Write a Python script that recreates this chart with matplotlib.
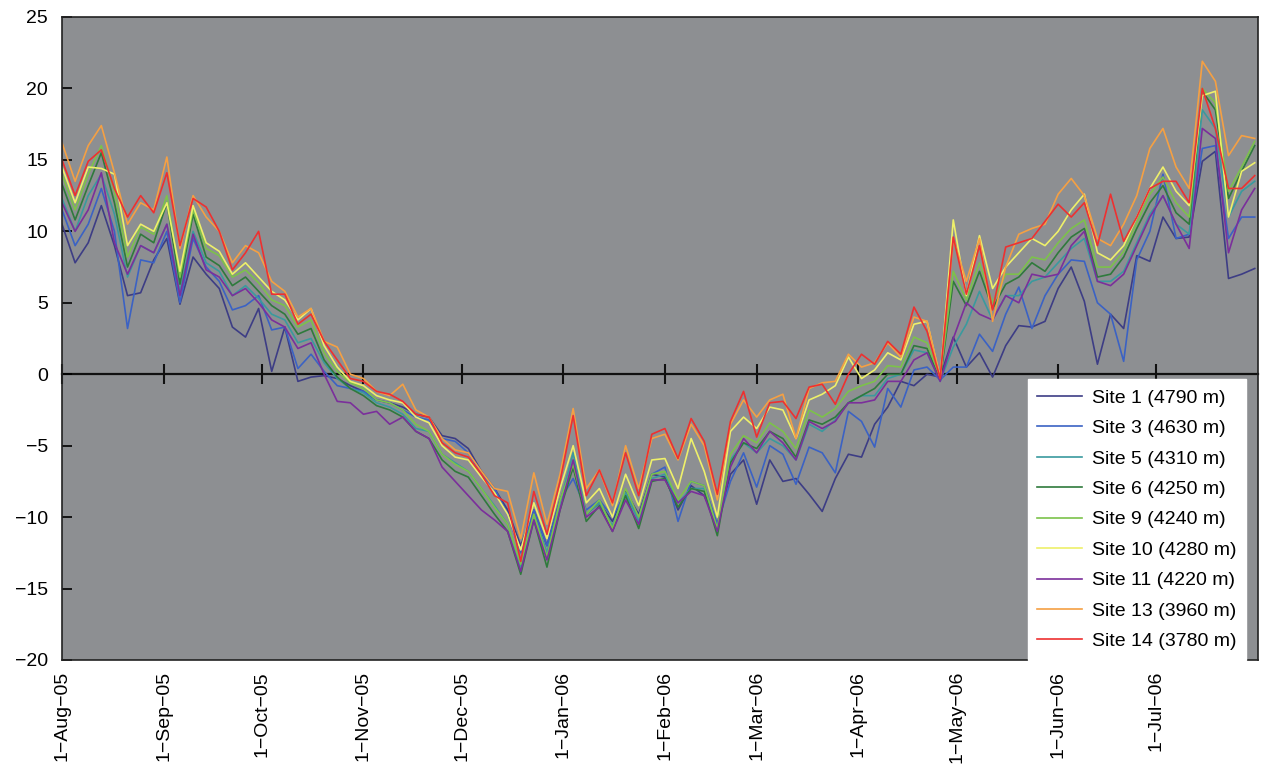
import numpy as np
import matplotlib
matplotlib.use("Agg")
import matplotlib.pyplot as plt
import matplotlib.dates as mdates
from datetime import date, timedelta

plt.rcParams['font.family'] = ['Liberation Sans', 'DejaVu Sans']

start = date(2005, 8, 1)
day_offsets = list(range(0, 365, 4))
dates = [start + timedelta(days=d) for d in day_offsets]

site1 = [10.5, 7.8, 9.2, 11.8, 9.0, 5.5, 5.7, 8.0, 9.5, 4.9,
         8.2, 7.0, 6.0, 3.3, 2.6, 4.6, 0.2, 3.3, -0.5, -0.2,
         -0.1, -0.3, -0.8, -1.2, -1.8, -2.0, -2.3, -2.8, -3.0, -4.3,
         -4.5, -5.2, -6.8, -8.0, -9.5, -12.0, -9.5, -12.0, -8.8, -6.5,
         -9.8, -9.0, -10.3, -8.2, -9.8, -7.0, -7.2, -9.5, -7.8, -8.5,
         -10.5, -7.0, -6.0, -9.1, -6.0, -7.5, -7.3, -8.4, -9.6, -7.3,
         -5.6, -5.8, -3.5, -2.3, -0.5, -0.8, 0.0, -0.2, 2.6, 0.5,
         1.5, -0.2, 2.0, 3.4, 3.3, 3.7, 6.0, 7.5, 5.1, 0.7,
         4.2, 3.2, 8.3, 7.9, 11.0, 9.5, 9.6, 14.9, 15.6, 6.7,
         7.0, 7.4]
site3 = [11.5, 9.0, 10.5, 13.0, 10.0, 3.2, 8.0, 7.8, 10.0, 5.0,
         9.5, 7.5, 6.5, 4.5, 4.8, 5.5, 3.1, 3.3, 0.4, 1.4,
         0.2, -0.8, -1.0, -1.2, -1.8, -2.0, -2.5, -3.0, -3.2, -4.5,
         -4.7, -5.5, -7.0, -8.0, -9.8, -12.5, -9.5, -12.0, -8.8, -7.3,
         -9.5, -8.8, -10.0, -8.3, -10.0, -7.0, -6.5, -10.3, -7.5, -7.8,
         -10.5, -7.5, -5.5, -7.9, -5.0, -5.6, -7.7, -5.1, -5.5, -6.9,
         -2.6, -3.3, -5.1, -1.0, -2.3, 0.3, 0.5, -0.4, 0.5, 0.5,
         2.8, 1.6, 4.2, 6.1, 3.2, 5.5, 7.0, 8.0, 7.9, 5.0,
         4.2, 0.9, 8.0, 10.0, 14.0, 9.5, 9.8, 15.8, 16.0, 9.5,
         11.0, 11.0]
site5 = [12.3, 10.0, 12.5, 14.0, 11.2, 6.8, 9.0, 8.5, 10.5, 5.8,
         10.0, 7.8, 7.2, 5.5, 6.2, 5.3, 4.2, 3.8, 2.2, 2.5,
         0.8, -0.3, -1.0, -1.3, -2.0, -2.3, -2.8, -3.8, -4.0, -5.6,
         -6.2, -6.8, -8.0, -9.2, -10.5, -13.5, -9.8, -12.5, -9.0, -5.5,
         -9.8, -9.0, -10.6, -8.3, -10.3, -7.3, -7.0, -9.0, -8.0, -8.0,
         -11.0, -6.0, -4.8, -5.5, -4.5, -5.0, -6.0, -3.5, -4.0, -3.2,
         -2.0, -1.5, -1.5, -0.3, 0.0, 1.7, 1.5, -0.5, 1.9, 3.5,
         5.8, 3.8, 5.5, 5.5, 6.5, 6.8, 7.8, 8.8, 9.5, 6.5,
         6.5, 7.2, 9.2, 11.2, 12.5, 10.5, 9.8, 18.5, 17.2, 11.0,
         12.8, 13.5]
site6 = [13.3, 10.8, 13.2, 15.5, 12.0, 7.5, 9.8, 9.2, 12.0, 6.3,
         11.2, 8.2, 7.6, 6.2, 6.8, 5.8, 4.8, 4.2, 2.8, 3.2,
         1.0, -0.2, -1.0, -1.5, -2.2, -2.5, -3.0, -4.0, -4.5, -6.0,
         -6.8, -7.2, -8.5, -9.8, -11.0, -14.0, -10.2, -13.5, -9.5, -6.5,
         -10.3, -9.2, -11.0, -8.5, -10.8, -7.5, -7.3, -9.3, -8.0, -8.2,
         -11.3, -6.2, -4.8, -5.2, -4.0, -4.5, -5.8, -3.2, -3.5, -3.0,
         -2.0, -1.5, -1.0, 0.0, 0.0, 2.0, 1.8, -0.4, 6.5, 4.8,
         7.2, 4.6, 6.3, 6.8, 7.8, 7.2, 8.5, 9.6, 10.2, 6.8,
         7.0, 8.2, 10.2, 12.0, 13.2, 11.3, 10.5, 19.8, 18.5, 12.3,
         14.2, 16.0]
site9 = [14.0, 11.5, 14.0, 16.0, 12.8, 8.2, 10.3, 9.8, 12.5, 6.8,
         11.5, 8.8, 8.3, 6.8, 7.3, 6.4, 5.2, 4.8, 3.3, 3.8,
         1.5, 0.2, -0.6, -1.0, -1.8, -2.0, -2.5, -3.5, -4.0, -5.6,
         -6.3, -6.8, -8.0, -9.3, -10.5, -13.3, -9.8, -12.8, -8.8, -6.3,
         -9.8, -8.8, -10.8, -8.0, -10.0, -7.0, -6.8, -8.8, -7.5, -7.8,
         -10.8, -5.6, -4.3, -4.8, -3.4, -4.0, -5.2, -2.5, -3.0, -2.4,
         -1.2, -0.8, -0.5, 0.6, 0.5, 2.6, 2.2, -0.2, 7.2, 5.2,
         7.8, 5.0, 7.0, 7.0, 8.2, 8.0, 9.2, 10.2, 10.8, 7.5,
         7.5, 8.6, 10.6, 12.6, 13.8, 12.0, 11.0, 20.0, 19.0, 12.8,
         14.5, 16.3]
site10 = [14.5, 12.0, 14.5, 14.4, 14.0, 9.0, 10.5, 10.0, 12.0, 7.2,
          11.8, 9.2, 8.6, 7.0, 7.8, 6.8, 5.8, 5.2, 3.8, 4.6,
          2.0, 0.5, -0.5, -0.8, -1.5, -1.8, -2.0, -3.0, -3.4, -5.0,
          -5.8, -6.0, -7.2, -8.3, -9.8, -12.3, -9.0, -11.5, -8.0, -5.0,
          -9.0, -8.0, -10.0, -7.0, -9.2, -6.0, -5.9, -8.0, -4.5, -6.8,
          -10.0, -4.0, -3.0, -3.8, -2.3, -2.5, -4.5, -1.8, -1.4, -0.8,
          1.2, -0.3, 0.3, 1.5, 1.0, 3.5, 3.7, -0.3, 10.8, 5.5,
          9.7, 6.0, 7.5, 8.5, 9.5, 9.0, 10.0, 11.5, 12.6, 8.5,
          8.0, 9.0, 11.0, 13.0, 14.5, 12.8, 11.8, 19.5, 19.8, 11.0,
          14.2, 14.8]
site11 = [12.0, 10.0, 11.5, 14.1, 9.2, 7.0, 9.0, 8.5, 10.5, 5.5,
          9.8, 7.3, 6.8, 5.5, 6.0, 5.0, 3.8, 3.3, 1.8, 2.2,
          0.0, -1.9, -2.0, -2.8, -2.6, -3.5, -3.0, -4.0, -4.5, -6.5,
          -7.5, -8.5, -9.5, -10.2, -11.0, -13.8, -10.2, -13.0, -9.5, -6.0,
          -10.0, -9.3, -11.0, -8.8, -10.5, -7.4, -7.4, -9.0, -8.2, -8.5,
          -11.0, -6.5, -4.5, -5.5, -4.0, -4.8, -6.0, -3.3, -3.8, -3.3,
          -2.0, -2.0, -1.8, -0.5, -0.5, 1.0, 1.5, -0.5, 2.5, 5.0,
          4.2, 3.8, 5.5, 5.0, 7.0, 6.8, 7.0, 9.0, 10.0, 6.5,
          6.2, 7.0, 9.0, 11.0, 12.5, 10.5, 8.8, 17.2, 16.5, 8.5,
          11.5, 13.0]
site13 = [16.2, 13.5, 16.0, 17.4, 14.1, 10.5, 12.0, 11.5, 15.2, 8.8,
          12.5, 11.0, 10.0, 7.8, 9.0, 8.5, 6.5, 5.8, 4.0, 4.6,
          2.3, 1.9, 0.0, -0.3, -1.2, -1.5, -0.7, -2.5, -3.0, -4.5,
          -5.3, -5.5, -6.8, -8.0, -8.2, -11.5, -6.9, -10.5, -7.0, -2.4,
          -8.0, -6.7, -9.2, -5.0, -8.0, -4.5, -4.2, -6.0, -3.5, -5.0,
          -8.8, -3.5, -1.8, -3.0, -1.8, -1.4, -4.5, -1.0, -0.6, -0.5,
          1.4, 0.5, 0.8, 2.2, 1.2, 4.0, 3.7, -0.2, 9.5, 6.5,
          9.5, 3.7, 7.5, 9.8, 10.2, 10.5, 12.6, 13.7, 12.5, 9.5,
          9.0, 10.5, 12.5, 15.8, 17.2, 14.5, 13.0, 21.9, 20.5, 15.3,
          16.7, 16.5]
site14 = [15.0, 12.5, 14.9, 15.7, 13.0, 11.0, 12.5, 11.3, 14.1, 9.0,
          12.3, 11.7, 10.0, 7.3, 8.5, 10.0, 5.6, 5.6, 3.5, 4.2,
          2.3, 1.0, -0.3, -0.5, -1.2, -1.4, -1.9, -2.8, -3.0, -4.8,
          -5.5, -5.8, -7.0, -8.5, -9.0, -13.1, -8.2, -11.2, -7.5, -2.9,
          -8.5, -6.7, -9.0, -5.5, -8.5, -4.2, -3.8, -5.9, -3.1, -4.7,
          -8.4, -3.3, -1.2, -4.4, -2.0, -1.9, -3.1, -0.9, -0.7, -2.1,
          0.0, 1.4, 0.7, 2.3, 1.4, 4.7, 3.0, -0.3, 9.6, 5.6,
          9.0, 4.5, 8.9, 9.2, 9.5, 10.7, 11.9, 11.0, 12.0, 9.0,
          12.6, 9.3, 11.0, 13.0, 13.5, 13.5, 12.0, 20.0, 17.2, 13.0,
          13.0, 13.9]

site_labels = ["Site 1 (4790 m)", "Site 3 (4630 m)", "Site 5 (4310 m)",
               "Site 6 (4250 m)", "Site 9 (4240 m)", "Site 10 (4280 m)",
               "Site 11 (4220 m)", "Site 13 (3960 m)", "Site 14 (3780 m)"]
site_values = [site1, site3, site5, site6, site9, site10, site11, site13, site14]
site_colors = ["#3d3d85", "#3b62c4", "#3a9a9e", "#2f7a3c", "#7cc24a",
               "#eef06a", "#7b2f9b", "#f5a043", "#ee3030"]

tick_dates = [date(2005, 8, 1), date(2005, 9, 1), date(2005, 10, 1), date(2005, 11, 1),
              date(2005, 12, 1), date(2006, 1, 1), date(2006, 2, 1), date(2006, 3, 1),
              date(2006, 4, 1), date(2006, 5, 1), date(2006, 6, 1), date(2006, 7, 1)]
tick_labels = ["1\u2212Aug\u221205", "1\u2212Sep\u221205", "1\u2212Oct\u221205", "1\u2212Nov\u221205",
               "1\u2212Dec\u221205", "1\u2212Jan\u221206", "1\u2212Feb\u221206", "1\u2212Mar\u221206",
               "1\u2212Apr\u221206", "1\u2212May\u221206", "1\u2212Jun\u221206", "1\u2212Jul\u221206"]
y_ticks = list(range(-20, 30, 5))

fig = plt.figure(figsize=(12.62, 7.76), dpi=100)
ax = fig.add_axes([62 / 1262, 1 - 660 / 776, 1196 / 1262, 643 / 776])
ax.set_facecolor("#8d8f92")

for lab, vals, col in zip(site_labels, site_values, site_colors):
    ax.plot(dates, vals, color=col, lw=1.2, label=lab)

ax.set_ylim(-20, 25)
ax.set_yticks(y_ticks)
ax.set_yticklabels([("\u2212" + str(-v)) if v < 0 else str(v) for v in y_ticks], fontsize=14)
ax.tick_params(axis="y", direction="in", length=7, width=1.2, pad=10)

ax.set_xlim(start, date(2006, 8, 1))
ax.set_xticks(tick_dates)
ax.set_xticklabels(tick_labels, rotation=90, fontsize=14)
ax.tick_params(axis="x", length=0, pad=8)

for sp in ax.spines.values():
    sp.set_linewidth(1.2)
    sp.set_color("#222222")

zero_frac = (0 - (-20)) / (25 - (-20))
sec = ax.secondary_xaxis(zero_frac)
sec.set_xticks(mdates.date2num(tick_dates))
sec.set_xticklabels([])
sec.tick_params(direction="inout", length=14, width=1.5, color="#111111")
sec.spines["bottom"].set_linewidth(1.6)
sec.spines["bottom"].set_color("#111111")

leg = ax.legend(loc="lower right", bbox_to_anchor=(0.99, 0.0), borderaxespad=0,
                frameon=True, fancybox=False, facecolor="white", edgecolor="white",
                framealpha=1, fontsize=14, handlelength=2.3, labelspacing=0.66,
                handletextpad=0.5, borderpad=0.5)
for lh in leg.get_lines():
    lh.set_linewidth(1.2)

fig.savefig("out.png", dpi=100, facecolor="white")
